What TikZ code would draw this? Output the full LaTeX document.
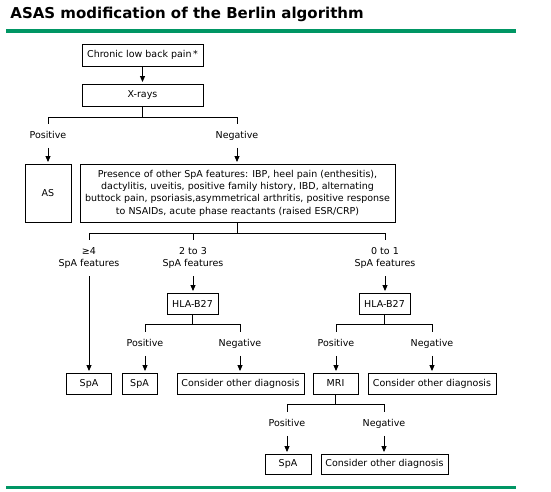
\documentclass[tikz,border=0pt]{standalone}
\usepackage{fontspec}
\setmainfont{DejaVu Sans}
\usepackage{tikz}
\usetikzlibrary{arrows.meta}
\definecolor{asasgreen}{RGB}{0,150,100}

\begin{document}
\begin{tikzpicture}[
  x=1pt, y=-1pt,
  font=\fontsize{9.5}{12.3}\selectfont,
  line width=0.9pt,
  box/.style={draw, inner sep=2pt, minimum height=21pt, align=center},
  lbl/.style={inner xsep=2pt, inner ysep=7pt, text height=7pt, text depth=2pt},
  lbltwo/.style={inner xsep=2pt, inner ysep=7pt, align=center},
  arr/.style={-{Triangle[width=5pt,length=6pt]}, shorten >=1.5pt}
]
\useasboundingbox (0,0) rectangle (551,491);

% title and rules
\node[anchor=base west, inner sep=0pt, font=\fontsize{15}{18}\selectfont\bfseries] (title) at (10,18) {ASAS modification of the Berlin algorithm};
\fill[asasgreen] (6,29) rectangle (516,33);
\fill[asasgreen] (6,485.5) rectangle (516,488.5);

% boxes
\node[box, minimum width=121pt, minimum height=22pt] (pain) at (142.5,55) {Chronic low back pain\,*};
\node[box, minimum width=121pt, minimum height=22pt] (xrays) at (142.5,95) {X-rays};
\node[box, minimum width=46pt, minimum height=58pt] (as) at (48,193) {AS};
\node[box, minimum width=315pt, minimum height=58pt] (feat) at (237.5,193) {Presence of other SpA features: IBP, heel pain (enthesitis),\\ dactylitis, uveitis, positive family history, IBD, alternating\\ buttock pain, psoriasis,asymmetrical arthritis, positive response\\ to NSAIDs, acute phase reactants (raised ESR/CRP)};
\node[box, minimum width=51pt] (hlaA) at (192.5,303.5) {HLA-B27};
\node[box, minimum width=51pt] (hlaB) at (384.5,303.5) {HLA-B27};
\node[box, minimum width=45pt] (spaA) at (89,383.5) {SpA};
\node[box, minimum width=35pt] (spaB) at (139.5,383.5) {SpA};
\node[box, minimum width=127pt] (otherA) at (240.5,383.5) {Consider other diagnosis};
\node[box, minimum width=45pt] (mri) at (335.5,383.5) {MRI};
\node[box, minimum width=128pt] (otherB) at (432,383.5) {Consider other diagnosis};
\node[box, minimum width=46pt, minimum height=20pt] (spaC) at (288,464) {SpA};
\node[box, minimum width=127pt, minimum height=20pt] (otherC) at (384.5,464) {Consider other diagnosis};

% branch labels
\node[lbl] (posA) at (48,136) {Positive};
\node[lbl] (negA) at (237,136) {Negative};
\node[lbltwo] (four) at (89,258) {≥4\\ SpA features};
\node[lbltwo] (two) at (193,258) {2 to 3\\ SpA features};
\node[lbltwo] (zero) at (385,258) {0 to 1\\ SpA features};
\node[lbl] (posB) at (145,344) {Positive};
\node[lbl] (negB) at (240,344) {Negative};
\node[lbl] (posC) at (336,344) {Positive};
\node[lbl] (negC) at (432,344) {Negative};
\node[lbl] (posD) at (287,424) {Positive};
\node[lbl] (negD) at (384,424) {Negative};

% connectors
\draw[arr] (pain) -- (xrays);
\draw (xrays.south) -- ++(0,10.5) coordinate (splitA);
\draw (splitA) -| (posA.north);
\draw (splitA) -| (negA.north);
\draw[arr] (posA) -- (as);
\draw[arr] (negA) -- (negA |- feat.north);

\draw (feat.south) -- ++(0,11) coordinate (splitB);
\draw (splitB) -| (four.north);
\draw (splitB) -| (two.north);
\draw (splitB) -| (zero.north);
\draw[arr] (four) -- (spaA);
\draw[arr] (two) -- (two |- hlaA.north);
\draw[arr] (zero) -- (zero |- hlaB.north);

\draw (hlaA.south) -- ++(0,10) coordinate (splitC);
\draw (splitC) -| (posB.north);
\draw (splitC) -| (negB.north);
\draw[arr] (posB.south) -- (posB.south |- spaB.north);
\draw[arr] (negB) -- (negB |- otherA.north);

\draw (hlaB.south) -- ++(0,10) coordinate (splitD);
\draw (splitD) -| (posC.north);
\draw (splitD) -| (negC.north);
\draw[arr] (posC) -- (posC |- mri.north);
\draw[arr] (negC) -- (negC |- otherB.north);

\draw (mri.south) -- ++(0,10) coordinate (splitE);
\draw (splitE) -| (posD.north);
\draw (splitE) -| (negD.north);
\draw[arr] (posD) -- (posD |- spaC.north);
\draw[arr] (negD) -- (negD |- otherC.north);
\end{tikzpicture}
\end{document}
